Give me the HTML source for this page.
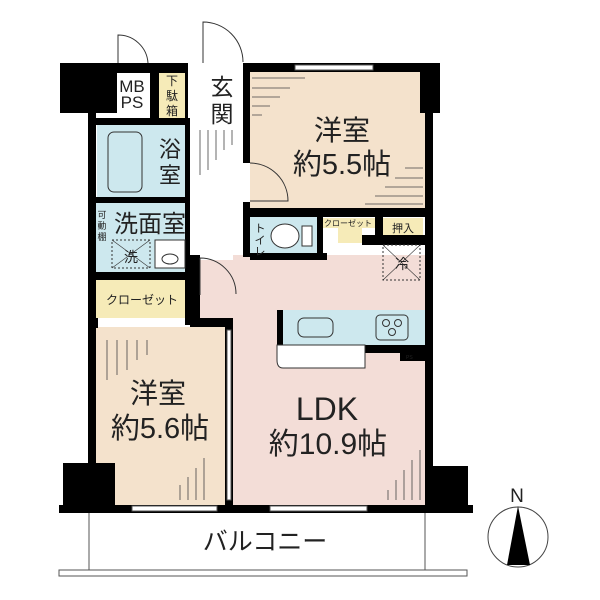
<!DOCTYPE html>
<html><head><meta charset="utf-8"><style>
html,body{margin:0;padding:0;background:#fff;}
svg{display:block;}
text{font-family:"Liberation Sans","Noto Sans CJK JP",sans-serif;fill:#222;}
</style></head><body>
<svg width="600" height="600" viewBox="0 0 600 600" xmlns="http://www.w3.org/2000/svg">
<!-- floors -->
<rect x="250" y="72" width="175" height="137" fill="#f4e2cc"/>
<rect x="95" y="327" width="132" height="180" fill="#f4e2cc"/>
<rect x="200" y="260" width="225" height="67" fill="#f3ddd7"/>
<rect x="233" y="255" width="192" height="252" fill="#f3ddd7"/>
<rect x="97" y="125" width="93" height="73" fill="#cde8ee"/>
<rect x="95" y="203" width="95" height="70" fill="#cde8ee"/>
<rect x="250" y="217" width="67" height="36" fill="#cde8ee"/>
<rect x="95" y="280" width="95" height="38" fill="#f6ebb8"/>
<rect x="159" y="73" width="26" height="45" fill="#f6ebb8"/>
<rect x="322" y="218" width="53" height="10" fill="#f6ebb8"/>
<rect x="338" y="228" width="24" height="15" fill="#f6ebb8"/>
<rect x="383" y="218" width="40" height="17" fill="#f6ebb8"/>
<!-- flooring lines -->
<g stroke="#444" stroke-width="0.8">
<path d="M252 78 H305 M252 88 H290 M252 97 H280 M252 106 H270 M252 115 H262"/>
<path d="M423 168 H405 M423 178 H395 M423 187 H385 M423 196 H375 M423 204 H365"/>
<path d="M200 130 V175 M208 130 V170 M216 130 V160 M224 130 V150 M232 130 V145"/>
<path d="M107 340 V380 M117 340 V375 M127 340 V370 M137 340 V360 M147 340 V355"/>
<path d="M204 500 V458 M196 500 V468 M188 500 V477 M180 500 V485"/>
<path d="M420 500 V450 M412 500 V460 M404 500 V470 M396 500 V480 M388 500 V490"/>
</g>
<!-- walls -->
<g fill="#000">
<rect x="60" y="63" width="57" height="50"/>
<rect x="115" y="63" width="73" height="10"/>
<rect x="150" y="63" width="9" height="60"/>
<rect x="185" y="63" width="3" height="60"/>
<rect x="243" y="63" width="197" height="9"/>
<rect x="420" y="63" width="20" height="50"/>
<rect x="88" y="108" width="8" height="360"/>
<rect x="425" y="108" width="8" height="360"/>
<rect x="88" y="118" width="102" height="7"/>
<rect x="88" y="197" width="102" height="6"/>
<rect x="88" y="272" width="102" height="8"/>
<rect x="88" y="318" width="10" height="10"/>
<rect x="185" y="125" width="5" height="200"/>
<rect x="190" y="255" width="10" height="63"/>
<rect x="190" y="318" width="43" height="9"/>
<rect x="225" y="327" width="8" height="180"/>
<rect x="243" y="72" width="7" height="91"/>
<rect x="243" y="202" width="7" height="55"/>
<rect x="250" y="208" width="175" height="9"/>
<rect x="250" y="253" width="77" height="7"/>
<rect x="317" y="217" width="6" height="43"/>
<rect x="375" y="217" width="8" height="28"/>
<rect x="362" y="235" width="63" height="10"/>
<rect x="277" y="310" width="6" height="35"/>
<rect x="365" y="345" width="60" height="8"/>
<rect x="400" y="353" width="25" height="8"/>
<rect x="63" y="463" width="52" height="44"/>
<rect x="425" y="466" width="43" height="41"/>
<rect x="59" y="505" width="414" height="8"/>
</g>
<!-- windows -->
<g fill="#fff" stroke="#555" stroke-width="1">
<rect x="295" y="65" width="78" height="5"/>
<rect x="132" y="506" width="85" height="5"/>
<rect x="270" y="506" width="97" height="5"/>
<rect x="227" y="330" width="4" height="170"/>
</g>
<!-- kitchen -->
<rect x="283" y="310" width="142" height="35" fill="#cde8ee"/>
<rect x="298" y="318" width="35" height="19" rx="6" fill="none" stroke="#333"/>
<rect x="376" y="315" width="32" height="25" rx="4" fill="none" stroke="#333"/>
<circle cx="386" cy="323" r="3.5" fill="none" stroke="#333"/>
<circle cx="398" cy="323" r="3.5" fill="none" stroke="#333"/>
<circle cx="392" cy="332" r="3.5" fill="none" stroke="#333"/>
<path d="M277 345 H365 V368 H283 Q277 368 277 360 Z" fill="#fff" stroke="#333"/>
<text x="406" y="359" font-size="5">PS</text>
<!-- bath -->
<rect x="108" y="132" width="34" height="60" rx="6" fill="none" stroke="#333"/>
<rect x="155" y="240" width="30" height="28" fill="#fff" stroke="#333"/>
<ellipse cx="170" cy="259" rx="8" ry="5" fill="none" stroke="#333"/>
<rect x="112" y="240" width="38" height="28" fill="none" stroke="#333" stroke-dasharray="2,2"/>
<path d="M112 240 L150 268 M150 240 L112 268" stroke="#333" stroke-width="0.6"/>
<rect x="383" y="245" width="37" height="35" fill="none" stroke="#333" stroke-dasharray="2,2"/>
<path d="M383 245 L420 280 M420 245 L383 280" stroke="#333" stroke-width="0.6"/>
<ellipse cx="285" cy="236" rx="14" ry="12" fill="#fff" stroke="#333"/>
<rect x="302" y="226" width="10" height="20" fill="#fff" stroke="#333"/>
<!-- doors -->
<g fill="none" stroke="#333" stroke-width="1">
<path d="M118 63 V35 A30 30 0 0 1 148 63"/>
<path d="M203 63 V22 A40 40 0 0 1 243 62"/>
<path d="M250 163 A38 38 0 0 1 288 201 H250"/>
<path d="M200 258 A36 36 0 0 1 236 294 M200 258 V295"/>
</g>
<!-- balcony -->
<path d="M89 513 V570 M425 513 V570" stroke="#555"/>
<rect x="59" y="570" width="408" height="6" fill="#fff" stroke="#555"/>
<!-- labels -->
<text x="132" y="92" font-size="17" text-anchor="middle">MB</text>
<text x="132" y="108" font-size="17" text-anchor="middle">PS</text>
<text x="172" y="85" font-size="12" text-anchor="middle">下</text>
<text x="172" y="100" font-size="12" text-anchor="middle">駄</text>
<text x="172" y="115" font-size="12" text-anchor="middle">箱</text>
<text x="222" y="95" font-size="23" text-anchor="middle">玄</text>
<text x="222" y="122" font-size="23" text-anchor="middle">関</text>
<text x="170" y="157" font-size="22" text-anchor="middle">浴</text>
<text x="170" y="183" font-size="22" text-anchor="middle">室</text>
<text x="150" y="232" font-size="24" text-anchor="middle">洗面室</text>
<text x="102" y="218" font-size="9" text-anchor="middle">可</text>
<text x="102" y="229" font-size="9" text-anchor="middle">動</text>
<text x="102" y="240" font-size="9" text-anchor="middle">棚</text>
<text x="131" y="262" font-size="14" text-anchor="middle">洗</text>
<text x="402" y="269" font-size="14" text-anchor="middle">冷</text>
<text x="260" y="232" font-size="11" text-anchor="middle">ト</text>
<text x="260" y="244" font-size="11" text-anchor="middle">イ</text>
<text x="260" y="255" font-size="11" text-anchor="middle">レ</text>
<text x="348" y="226" font-size="8" text-anchor="middle">クローゼット</text>
<text x="403" y="232" font-size="11" text-anchor="middle">押入</text>
<text x="142" y="304" font-size="12" text-anchor="middle">クローゼット</text>
<text x="342" y="140" font-size="28" text-anchor="middle">洋室</text>
<text x="342" y="174" font-size="29" text-anchor="middle">約5.5帖</text>
<text x="158" y="403" font-size="28" text-anchor="middle">洋室</text>
<text x="160" y="438" font-size="29" text-anchor="middle">約5.6帖</text>
<text x="327" y="420" font-size="32" text-anchor="middle">LDK</text>
<text x="328" y="454" font-size="30" text-anchor="middle">約10.9帖</text>
<text x="265" y="550" font-size="25" text-anchor="middle">バルコニー</text>
<!-- compass -->
<text x="517" y="502" font-size="19" text-anchor="middle">N</text>
<circle cx="518" cy="537" r="30" fill="none" stroke="#444"/>
<path d="M518 506 L507 565 L530 565 Z" fill="#000"/>
</svg>
</body></html>
